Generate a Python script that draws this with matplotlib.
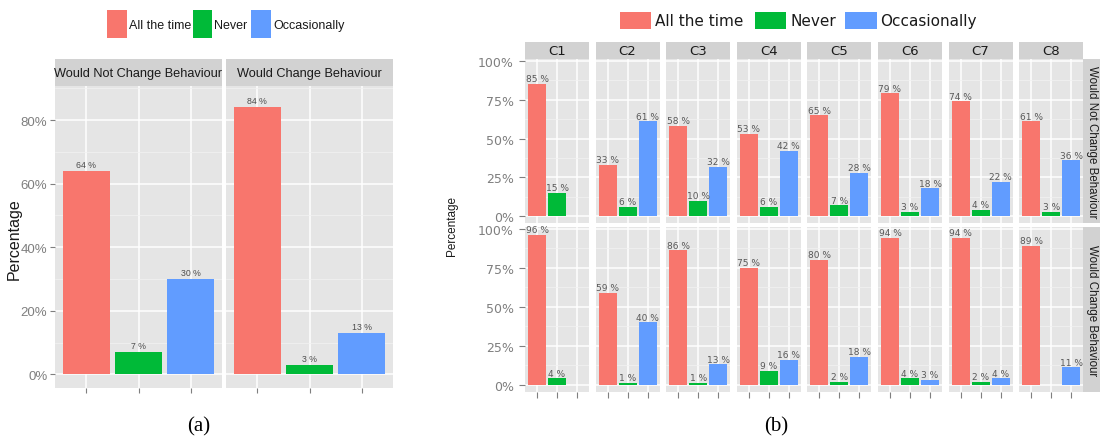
import numpy as np
import matplotlib
matplotlib.use('Agg')
import matplotlib.pyplot as plt
from matplotlib.patches import Rectangle

# ---------------- data ----------------
responses = ['All the time', 'Never', 'Occasionally']
colors = ['#F8766D', '#00BA38', '#619CFF']

facets_a = ['Would Not Change Behaviour', 'Would Change Behaviour']
a_not_change = [64, 7, 30]
a_change = [84, 3, 13]

clusters = ['C1', 'C2', 'C3', 'C4', 'C5', 'C6', 'C7', 'C8']
rows_b = ['Would Not Change Behaviour', 'Would Change Behaviour']
b_not_all = [85, 33, 58, 53, 65, 79, 74, 61]
b_not_never = [15, 6, 10, 6, 7, 3, 4, 3]
b_not_occ = [np.nan, 61, 32, 42, 28, 18, 22, 36]
b_chg_all = [96, 59, 86, 75, 80, 94, 94, 89]
b_chg_never = [4, 1, 1, 9, 2, 4, 2, np.nan]
b_chg_occ = [np.nan, 40, 13, 16, 18, 3, 4, 11]

a_yticks = [0, 20, 40, 60, 80]
b_yticks = [0, 25, 50, 75, 100]

# ---------------- style ----------------
W, H = 1100, 439
fig = plt.figure(figsize=(W / 100, H / 100), dpi=100)

NARROW = ['Liberation Sans', 'DejaVu Sans']
WIDE = ['DejaVu Sans']
ARIAL = ['Liberation Sans', 'DejaVu Sans']
SERIF = ['Liberation Serif', 'DejaVu Serif']
PANEL_BG = '#E5E5E5'
STRIP_BG = '#D2D2D2'
TICK_C = '#7F7F7F'
TXT = '#1A1A1A'


def px_axes(x0, y0, x1, y1):
    return fig.add_axes([x0 / W, 1 - y1 / H, (x1 - x0) / W, (y1 - y0) / H])


def fx(x):
    return x / W


def fy(y):
    return 1 - y / H


def style_panel(ax, ylim, major, minor, xticks=True, ylabels=True,
                yfont=NARROW, yfs=10.5, tlen=3.5, pad=2):
    ax.set_facecolor(PANEL_BG)
    for s in ax.spines.values():
        s.set_visible(False)
    ax.set_xlim(0.4, 3.6)
    ax.set_ylim(*ylim)
    ax.set_xticks([1, 2, 3])
    ax.set_xticklabels([])
    ax.set_yticks(major)
    ax.set_yticks(minor, minor=True)
    ax.grid(True, which='major', color='white', lw=1.1)
    ax.grid(True, which='minor', axis='y', color='#F2F2F2', lw=0.5)
    ax.set_axisbelow(True)
    ax.tick_params(which='minor', length=0)
    ax.tick_params(axis='x', which='major', color=TICK_C,
                   length=tlen if xticks else 0)
    ax.tick_params(axis='y', which='major', color=TICK_C,
                   length=tlen if ylabels else 0, labelcolor=TICK_C,
                   pad=pad)
    if ylabels:
        ax.set_yticklabels([f'{t}%' for t in major], fontsize=yfs,
                           family=yfont)
    else:
        ax.set_yticklabels([])


def strip(x0, y0, x1, y1, text, font, fs, rot=0):
    sax = px_axes(x0, y0, x1, y1)
    sax.set_facecolor(STRIP_BG)
    sax.set_xticks([])
    sax.set_yticks([])
    for s in sax.spines.values():
        s.set_visible(False)
    sax.text(0.5, 0.5, text, ha='center', va='center', fontsize=fs,
             family=font, color=TXT, rotation=rot, transform=sax.transAxes)


def draw_bars(ax, vals, font, fs, col, off):
    x = np.arange(1, len(vals) + 1)
    v = np.array(vals, dtype=float)
    ax.bar(x, np.nan_to_num(v), width=0.9, color=colors)
    for xi, vi in zip(x, v):
        if not np.isnan(vi):
            ax.text(xi, vi + off, f'{int(vi)} %', ha='center', va='bottom',
                    fontsize=fs, family=font, color=col)


# ---------------- panel (a) ----------------
a_vals = [a_not_change, a_change]
a_x = [(55, 222), (226, 393)]
for i, (x0, x1) in enumerate(a_x):
    ax = px_axes(x0, 87, x1, 389)
    style_panel(ax, (-4.3, 90.7), a_yticks, [10, 30, 50, 70, 90],
                ylabels=(i == 0), yfs=9.5, tlen=3.5, pad=2)
    draw_bars(ax, a_vals[i], NARROW, 6.3, '#4D4D4D', 0.6)
    strip(x0, 60, x1, 87, facets_a[i], NARROW, 9.2)

fig.text(fx(14), fy(239), 'Percentage', rotation=90, ha='center',
         va='center', fontsize=11.5, family=ARIAL, color=TXT)

# legend (a)
for (sx0, sx1, tx), lab, c in zip([(107, 127, 129), (193, 212, 214),
                                    (251, 271, 273)], responses, colors):
    fig.add_artist(Rectangle((fx(sx0), fy(39)), fx(sx1 - sx0), 28 / H,
                             transform=fig.transFigure, color=c, lw=0))
    fig.text(fx(tx), fy(26), lab, ha='left', va='center', fontsize=9,
             family=NARROW, color=TXT)

fig.text(fx(199), fy(427), '(a)', ha='center', va='center', fontsize=15,
         family=SERIF, color='black')

# ---------------- panel (b) ----------------
b_data = [[b_not_all, b_not_never, b_not_occ],
          [b_chg_all, b_chg_never, b_chg_occ]]
row_y = [(60, 224), (228, 393)]
row_lim = [(-4.3, 101.1), (-4.7, 101.0)]
col_w = 64
col_pitch = 70.6
for r in range(2):
    y0, y1 = row_y[r]
    for c in range(len(clusters)):
        x0 = 525 + c * col_pitch
        ax = px_axes(x0, y0, x0 + col_w, y1)
        style_panel(ax, row_lim[r], b_yticks, [12.5, 37.5, 62.5, 87.5],
                    xticks=(r == 1), ylabels=(c == 0), yfont=WIDE,
                    yfs=9, tlen=4, pad=4)
        vals = [b_data[r][k][c] for k in range(3)]
        draw_bars(ax, vals, WIDE, 6.5, '#595959', 0.4)
        if r == 0:
            strip(x0, 43, x0 + col_w, 60, clusters[c], WIDE, 9.5)
    strip(1083, y0, 1100, y1, rows_b[r], ARIAL, 8.3, rot=-90)

fig.text(fx(452), fy(226), 'Percentage', rotation=90, ha='center',
         va='center', fontsize=8.5, family=ARIAL, color=TXT)

# legend (b)
for (sx0, sx1, tx), lab, c in zip([(620, 651, 655), (755, 786, 790),
                                    (845, 877, 880)], responses, colors):
    fig.add_artist(Rectangle((fx(sx0), fy(30)), fx(sx1 - sx0), 17.3 / H,
                             transform=fig.transFigure, color=c, lw=0))
    fig.text(fx(tx), fy(21.5), lab, ha='left', va='center', fontsize=11,
             family=WIDE, color=TXT)

fig.text(fx(776), fy(427), '(b)', ha='center', va='center', fontsize=15,
         family=SERIF, color='black')

fig.savefig('out.png', dpi=100)
